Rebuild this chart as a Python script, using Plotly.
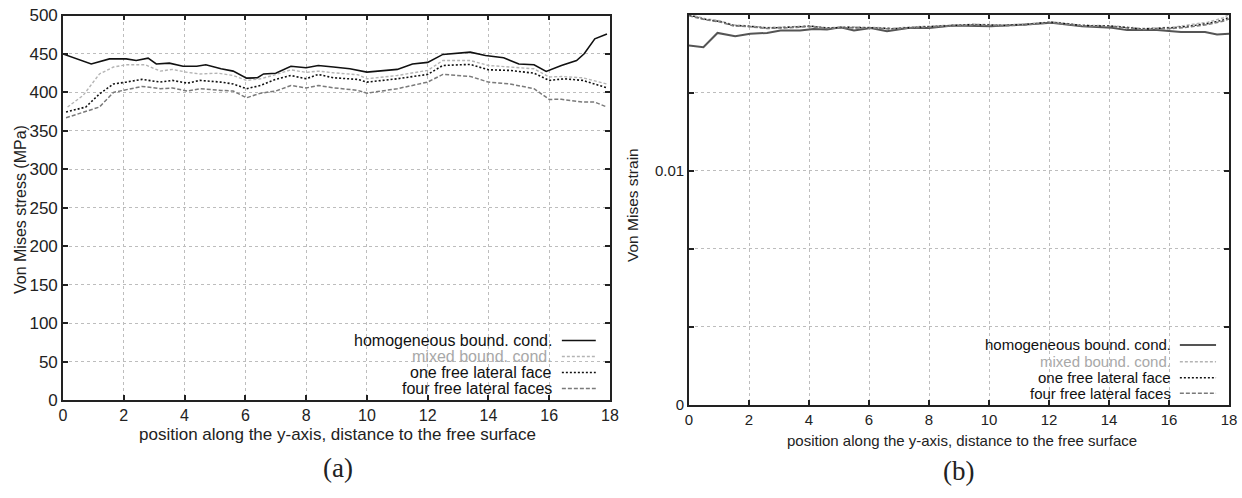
import plotly.graph_objects as go

# ---------------- data: (a) Von Mises stress ----------------
a_homog_x = [0, 0.93, 1.53, 2.08, 2.41, 2.8, 3.07, 3.5, 3.95, 4.4, 4.7, 5.2, 5.6, 6.04, 6.4, 6.6, 7.0, 7.5, 8.0, 8.4, 8.9, 9.44, 10.0, 11.0, 11.5, 12.0, 12.5, 13.4, 13.9, 14.5, 15.0, 15.5, 15.9, 16.4, 16.9, 17.15, 17.5, 17.9]
a_homog_y = [450, 437, 443.6, 443.6, 441.5, 444.5, 437, 438, 434, 434, 435.9, 430.7, 427.7, 418.6, 419, 424, 425, 434, 432, 435, 433, 430.7, 426.4, 429.9, 437, 439, 449.4, 452.4, 448, 445, 437, 435.9, 427.3, 435, 441.5, 450.2, 469.7, 476]

a_mixed_x = [0.15, 0.66, 1.2, 1.66, 2.08, 2.7, 3.2, 3.6, 4.1, 4.5, 5.1, 5.6, 6.04, 6.5, 6.9, 7.5, 8.0, 8.4, 8.9, 9.7, 10.0, 11.0, 12.0, 12.5, 13.4, 14.0, 14.7, 15.5, 16.0, 16.4, 17.1, 17.9]
a_mixed_y = [381, 396, 424, 433, 436, 436, 427.7, 429.9, 426, 424, 425, 422, 415.6, 417.7, 422, 429.4, 426, 427.7, 425.5, 423, 417.7, 422, 428.6, 441.5, 441.5, 435, 433, 430.7, 420, 420.7, 419, 411]

a_one_x = [0.1, 0.75, 1.2, 1.66, 2.08, 2.6, 3.2, 3.6, 4.1, 4.5, 5.2, 5.6, 6.04, 6.5, 7.0, 7.5, 8.0, 8.4, 8.9, 9.7, 10.0, 11.0, 12.0, 12.5, 13.4, 14.0, 14.7, 15.5, 16.0, 16.5, 17.1, 17.9]
a_one_y = [374.4, 381, 398, 411, 413.4, 416.9, 413.4, 415.6, 412, 415.6, 413.4, 411, 404.8, 409, 416.9, 422, 417.7, 423.4, 419, 416.9, 413.4, 417.7, 423.4, 435, 436.4, 429.4, 428.6, 425, 415.6, 417.7, 415.6, 406]

a_four_x = [0.1, 0.85, 1.2, 1.66, 2.08, 2.6, 3.2, 3.6, 4.1, 4.5, 5.2, 5.6, 6.04, 6.5, 7.0, 7.5, 8.0, 8.4, 8.9, 9.7, 10.0, 11.0, 12.0, 12.5, 13.4, 14.0, 14.7, 15.5, 16.0, 16.4, 17.1, 17.5, 17.9]
a_four_y = [367, 376.6, 381, 400, 403.4, 407.8, 404.8, 405.8, 401.7, 404.8, 402.6, 401.7, 393, 399, 401.7, 409, 405.8, 409, 406, 402.6, 399, 404.8, 413.4, 423.4, 420.8, 413.4, 411, 404.8, 390.9, 391, 387.4, 387.4, 381]

# ---------------- data: (b) Von Mises strain ----------------
b_homog_x = [0.0, 0.48, 0.95, 1.54, 2.04, 2.6, 3.05, 3.7, 4.15, 4.6, 5.05, 5.5, 6.06, 6.6, 7.3, 8.0, 8.8, 9.0, 10.07, 11.2, 12.08, 13.1, 14.1, 14.6, 15.6, 16.4, 17.2, 17.6, 18.0]
b_homog_y = [0.01534, 0.01527, 0.01588, 0.01574, 0.01584, 0.01588, 0.01598, 0.01598, 0.01605, 0.01603, 0.01612, 0.01598, 0.01609, 0.01595, 0.01609, 0.01609, 0.0162, 0.0162, 0.01617, 0.01624, 0.01631, 0.01617, 0.0161, 0.016, 0.016, 0.01592, 0.01592, 0.01581, 0.01584]

b_x = [0.0, 0.58, 1.03, 1.48, 2.04, 2.6, 3.3, 4.05, 4.6, 5.3, 6.06, 6.8, 7.5, 8.4, 9.5, 10.5, 11.2, 12.08, 13.1, 14.1, 15.1, 16.1, 16.6, 17.3, 17.8, 18.0]
b_mixed_y = [0.01667, 0.01648, 0.0164, 0.01622, 0.01618, 0.01611, 0.01614, 0.01618, 0.0161, 0.01614, 0.01612, 0.01608, 0.01614, 0.01619, 0.01625, 0.01622, 0.01625, 0.01635, 0.01621, 0.01618, 0.01607, 0.01612, 0.0162, 0.01634, 0.01652, 0.01667]
b_one_y = [0.01664, 0.01645, 0.01637, 0.0162, 0.01616, 0.01609, 0.01612, 0.01617, 0.01609, 0.01612, 0.0161, 0.01606, 0.01612, 0.01617, 0.01624, 0.0162, 0.01624, 0.01634, 0.0162, 0.01617, 0.01605, 0.0161, 0.01616, 0.01628, 0.01643, 0.01655]
b_four_y = [0.01661, 0.01643, 0.01635, 0.01618, 0.01614, 0.01607, 0.0161, 0.01615, 0.01607, 0.0161, 0.01608, 0.01604, 0.0161, 0.01615, 0.01622, 0.01618, 0.01622, 0.01632, 0.01618, 0.01615, 0.01603, 0.01607, 0.01612, 0.01624, 0.01638, 0.01648]

legend_names = ["homogeneous bound. cond.", "mixed bound. cond.", "one free lateral face", "four free lateral faces"]
a_yticks = list(range(0, 501, 50))
x_ticks = list(range(0, 19, 2))
b_yticks = [0, 0.01 / 3, 0.02 / 3, 0.01, 0.04 / 3]
b_yticktext = ["0", "", "", "0.01", ""]
x_title = "position along the y-axis, distance to the free surface"
a_y_title = "Von Mises stress (MPa)"
b_y_title = "Von Mises strain"

FONT = "Liberation Sans, Arial, sans-serif"
TXT = "#222222"

fig = go.Figure()

styles_a = [
    dict(color="#111111", width=1.6, dash="solid"),
    dict(color="#b4b4b4", width=1.4, dash="3px,2px"),
    dict(color="#111111", width=1.6, dash="2px,2px"),
    dict(color="#7a7a7a", width=1.5, dash="4px,2px"),
]
styles_b = [
    dict(color="#555555", width=2.0, dash="solid"),
    dict(color="#b4b4b4", width=1.5, dash="3px,2px"),
    dict(color="#111111", width=1.4, dash="2px,2px"),
    dict(color="#7a7a7a", width=1.5, dash="4px,2px"),
]

a_series = [(a_homog_x, a_homog_y), (a_mixed_x, a_mixed_y), (a_one_x, a_one_y), (a_four_x, a_four_y)]
for (xs, ys), st, nm in zip(a_series, styles_a, legend_names):
    fig.add_trace(go.Scatter(x=xs, y=ys, mode="lines", line=st, name=nm, showlegend=False,
                             xaxis="x", yaxis="y"))

b_series = [(b_homog_x, b_homog_y), (b_x, b_mixed_y), (b_x, b_one_y), (b_x, b_four_y)]
for (xs, ys), st, nm in zip(b_series, styles_b, legend_names):
    fig.add_trace(go.Scatter(x=xs, y=ys, mode="lines", line=st, name=nm, showlegend=False,
                             xaxis="x2", yaxis="y2"))

axis_common = dict(showline=True, linecolor="#222222", linewidth=1.6, mirror="ticks",
                   ticks="inside", ticklen=5, tickcolor="#222222", tickwidth=1.5,
                   showgrid=True, gridcolor="#bdbdbd", griddash="dot", gridwidth=1,
                   zeroline=False, automargin=False)

fig.update_layout(
    template="none",
    width=1242, height=498,
    margin=dict(l=0, r=0, t=0, b=0, pad=0),
    paper_bgcolor="white", plot_bgcolor="white",
    font=dict(family=FONT, color=TXT),
    showlegend=False,
    xaxis=dict(domain=[63 / 1242, 610 / 1242], range=[0, 18], tickvals=x_ticks,
               tickfont=dict(size=16), anchor="y", **axis_common),
    yaxis=dict(domain=[1 - 400 / 498, 1 - 15.5 / 498], range=[0, 500], tickvals=a_yticks,
               tickfont=dict(size=17), anchor="x", **axis_common),
    xaxis2=dict(domain=[689 / 1242, 1229 / 1242], range=[0, 18], tickvals=x_ticks,
                tickfont=dict(size=15), anchor="y2", **axis_common),
    yaxis2=dict(domain=[1 - 405 / 498, 1 - 14.5 / 498], range=[0, 0.05 / 3],
                tickvals=b_yticks, ticktext=b_yticktext,
                tickfont=dict(size=15), anchor="x2", **axis_common),
)


def label(x_px, y_px, text, size, angle=0, family=FONT):
    fig.add_annotation(x=x_px / 1242, y=1 - y_px / 498, xref="paper", yref="paper", text=text,
                       textangle=angle, showarrow=False, xanchor="center", yanchor="middle",
                       font=dict(size=size, family=family, color=TXT))


# axis titles
label(337, 434, x_title, 17)
label(20, 210, a_y_title, 16, -90)
label(962, 440, x_title, 15)
label(632, 205, b_y_title, 15.5, -90)

# custom legends (text right-aligned, line sample on the right)
legend_a_rows = [0.1547, 0.1131, 0.0715, 0.0299]
legend_b_rows = [0.1537, 0.1109, 0.0699, 0.0300]
text_colors = ["#111111", "#a8a8a8", "#111111", "#111111"]
for i, nm in enumerate(legend_names):
    fig.add_annotation(x=0.896, y=legend_a_rows[i], xref="x domain", yref="y domain",
                       text=nm, showarrow=False, xanchor="right", yanchor="middle", borderpad=0,
                       font=dict(size=16, color=text_colors[i], family=FONT))
    fig.add_shape(type="line", xref="x domain", yref="y domain", x0=0.912, x1=0.974,
                  y0=legend_a_rows[i], y1=legend_a_rows[i], line=styles_a[i])
    fig.add_annotation(x=0.894, y=legend_b_rows[i], xref="x2 domain", yref="y2 domain",
                       text=nm, showarrow=False, xanchor="right", yanchor="middle", borderpad=0,
                       font=dict(size=15, color=text_colors[i], family=FONT))
    fig.add_shape(type="line", xref="x2 domain", yref="y2 domain", x0=0.909, x1=0.976,
                  y0=legend_b_rows[i], y1=legend_b_rows[i], line=styles_b[i])

label(338, 468, "(a)", 27, family="Liberation Serif, serif")
label(958, 471, "(b)", 27, family="Liberation Serif, serif")

fig.write_html("out.html")
